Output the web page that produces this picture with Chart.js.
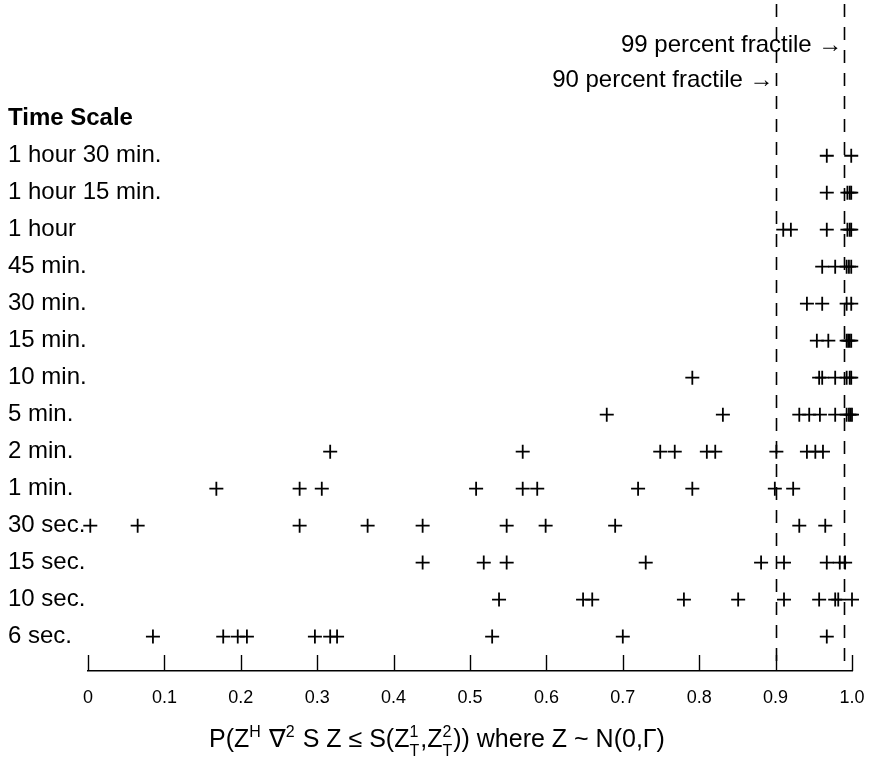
<!DOCTYPE html>
<html><head><meta charset="utf-8">
<script src="https://cdn.jsdelivr.net/npm/chart.js@4.4.1/dist/chart.umd.min.js"></script>
<style>html,body{margin:0;padding:0;background:#fff;}#wrap{width:890px;height:771px;}</style>
</head><body><div id="wrap"><canvas id="c" width="890" height="771"></canvas></div>
<script>
// ---- data ----
const timeScales = ["Time Scale","1 hour 30 min.","1 hour 15 min.","1 hour","45 min.","30 min.","15 min.","10 min.","5 min.","2 min.","1 min.","30 sec.","15 sec.","10 sec.","6 sec."];
const xTicks = [0,0.1,0.2,0.3,0.4,0.5,0.6,0.7,0.8,0.9,1.0];
const xTickLabels = ["0","0.1","0.2","0.3","0.4","0.5","0.6","0.7","0.8","0.9","1.0"];
const fractiles = [0.90, 0.99];
const fractileLabels = ["90 percent fractile \u2192","99 percent fractile \u2192"];

const r1h30 = [0.967, 0.999];
const r1h15 = [0.967, 0.994, 0.997, 0.999];
const r1h   = [0.910, 0.920, 0.967, 0.994, 0.997, 0.999];
const r45m  = [0.961, 0.978, 0.993, 0.996, 0.999];
const r30m  = [0.941, 0.961, 0.993, 0.999];
const r15m  = [0.954, 0.969, 0.993, 0.995, 0.997, 0.999];
const r10m  = [0.791, 0.957, 0.961, 0.978, 0.993, 0.997, 0.999];
const r5m   = [0.679, 0.831, 0.931, 0.944, 0.958, 0.978, 0.993, 0.996, 0.998, 1.0];
const r2m   = [0.317, 0.569, 0.749, 0.768, 0.810, 0.821, 0.901, 0.941, 0.952, 0.962];
const r1m   = [0.168, 0.277, 0.306, 0.508, 0.569, 0.588, 0.720, 0.791, 0.899, 0.923];
const r30s  = [0.003, 0.065, 0.277, 0.366, 0.438, 0.548, 0.599, 0.690, 0.931, 0.965];
const r15s  = [0.438, 0.518, 0.548, 0.730, 0.881, 0.911, 0.967, 0.984, 0.991];
const r10s  = [0.538, 0.648, 0.660, 0.780, 0.851, 0.911, 0.957, 0.978, 0.982, 1.0];
const r6s   = [0.085, 0.177, 0.196, 0.208, 0.297, 0.317, 0.326, 0.529, 0.700, 0.967];

const rowValues = [r1h30, r1h15, r1h, r45m, r30m, r15m, r10m, r5m, r2m, r1m, r30s, r15s, r10s, r6s];

// ---- styling ----
const FONT = "'Liberation Sans', Arial, Helvetica, sans-serif";

const decor = {
  id: 'decor',
  afterDraw(chart) {
    const ctx = chart.ctx, xs = chart.scales.x, ca = chart.chartArea;
    ctx.save();
    ctx.strokeStyle = '#000';
    // upward tick marks
    ctx.lineWidth = 1.4;
    xTicks.forEach(v => {
      const px = Math.round(xs.getPixelForValue(v)) + 0.5;
      ctx.beginPath(); ctx.moveTo(px, ca.bottom); ctx.lineTo(px, ca.bottom - 16); ctx.stroke();
    });
    // dashed fractile lines
    ctx.lineWidth = 1.6;
    ctx.setLineDash([13, 10]);
    fractiles.forEach(v => {
      const px = Math.round(xs.getPixelForValue(v)) + 0.5;
      ctx.beginPath(); ctx.moveTo(px, ca.top + 4); ctx.lineTo(px, ca.bottom); ctx.stroke();
    });
    ctx.setLineDash([]);
    // fractile labels
    ctx.fillStyle = '#000';
    ctx.font = "24px " + FONT;
    ctx.textAlign = 'right'; ctx.textBaseline = 'middle';
    ctx.fillText(fractileLabels[1], xs.getPixelForValue(fractiles[1]) - 2, 45);
    ctx.fillText(fractileLabels[0], xs.getPixelForValue(fractiles[0]) - 2, 80);
    // axis title with super/subscripts
    const base = 25, small = 16;
    const segs = [
      {t:"P(Z"}, {t:"H", sup:1}, {t:" \u2207"}, {t:"2", sup:1}, {t:" S Z \u2264 S(Z"},
      {stack:["1","T"]}, {t:",Z"}, {stack:["2","T"]}, {t:")) where Z ~ N(0,\u0393)"}
    ];
    const bf = base + "px " + FONT, sf = small + "px " + FONT;
    let total = 0;
    segs.forEach(s => {
      if (s.stack) { ctx.font = sf; s.w = Math.max(ctx.measureText(s.stack[0]).width, ctx.measureText(s.stack[1]).width) + 1; }
      else { ctx.font = s.sup ? sf : bf; s.w = ctx.measureText(s.t).width + (s.sup ? 1 : 0); }
      total += s.w;
    });
    let x = 437 - total / 2; const y = 747;
    ctx.textAlign = 'left'; ctx.textBaseline = 'alphabetic';
    segs.forEach(s => {
      if (s.stack) {
        ctx.font = sf; ctx.fillText(s.stack[0], x, y - 10); ctx.fillText(s.stack[1], x, y + 9);
      } else if (s.sup) { ctx.font = sf; ctx.fillText(s.t, x, y - 10); }
      else { ctx.font = bf; ctx.fillText(s.t, x, y); }
      x += s.w;
    });
    ctx.restore();
  }
};

new Chart(document.getElementById('c'), {
  type: 'scatter',
  data: {
    datasets: rowValues.map((vals, i) => ({
      data: vals.map(v => ({x: v, y: i + 1})),
      pointStyle: 'cross', pointRadius: 7, pointHoverRadius: 7, clip: false,
      pointBorderWidth: 1.8, borderColor: '#000', backgroundColor: '#000', showLine: false
    }))
  },
  options: {
    responsive: false, animation: false, events: [],
    layout: {autoPadding: false, padding: {left: 88, right: 38, top: 0, bottom: 0}},
    plugins: {legend: {display: false}, tooltip: {enabled: false}, title: {display: false}},
    scales: {
      x: {
        type: 'linear', min: 0, max: 1,
        afterBuildTicks: s => { s.ticks = xTicks.map(v => ({value: v})); },
        ticks: {callback: (v, i) => xTickLabels[i], font: {family: FONT, size: 18}, color: '#000', padding: 16, maxRotation: 0, autoSkip: false},
        grid: {display: false, drawTicks: false},
        border: {display: true, color: '#000', width: 1.5},
        afterFit: s => { s.height = 100; s.paddingLeft = 0; s.paddingRight = 0; }
      },
      y: {
        type: 'linear', reverse: true, min: -3.21, max: 14.93,
        afterBuildTicks: s => { s.ticks = timeScales.map((_, i) => ({value: i})); },
        ticks: {
          callback: (v, i) => timeScales[i], mirror: true, crossAlign: 'near', padding: -80,
          color: '#000', autoSkip: false,
          font: c => ({family: FONT, size: 24, weight: c.index === 0 ? 'bold' : 'normal'})
        },
        grid: {display: false, drawTicks: false},
        border: {display: false},
        afterFit: s => { s.width = 0; s.paddingTop = 0; s.paddingBottom = 0; }
      }
    }
  },
  plugins: [decor]
});
</script>
</body></html>
